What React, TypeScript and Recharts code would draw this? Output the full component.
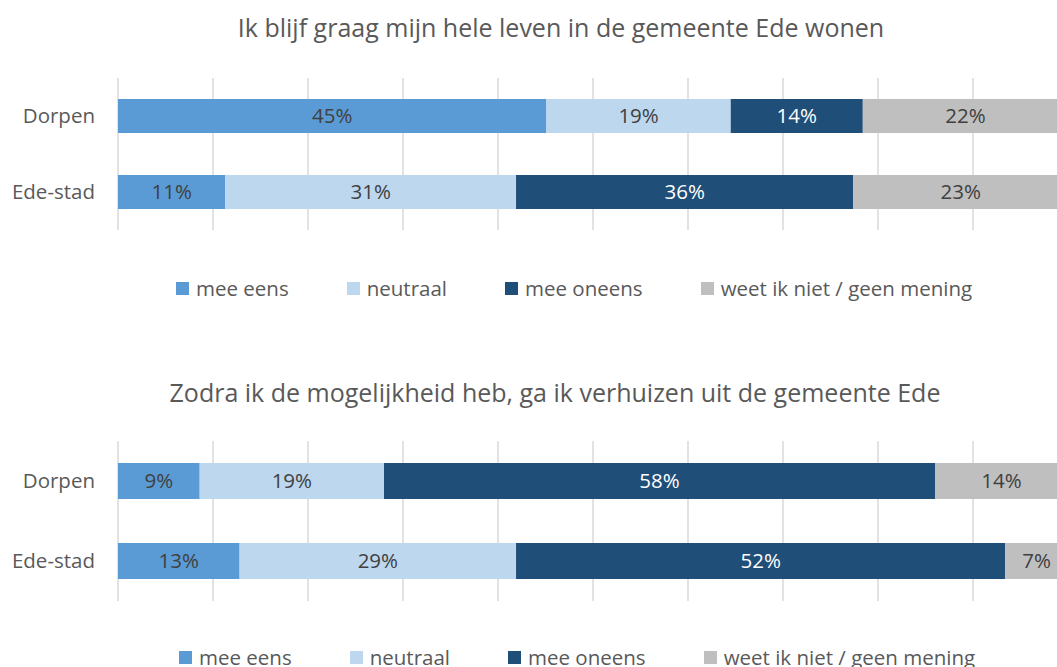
import React from "react";
import { BarChart, Bar, XAxis, YAxis, CartesianGrid, LabelList } from "recharts";

const categories = ["Dorpen", "Ede-stad"];
const seriesNames = ["mee eens", "neutraal", "mee oneens", "weet ik niet / geen mening"];
const seriesColors = ["#5b9bd5", "#bdd7ee", "#1f4e79", "#bfbfbf"];
const labelColors = ["#404040", "#404040", "#ffffff", "#404040"];
const xTicks = [0, 10, 20, 30, 40, 50, 60, 70, 80, 90, 100];

// Ik blijf graag mijn hele leven in de gemeente Ede wonen
const blijfMeeEens = [45.1, 11.3];
const blijfNeutraal = [19.4, 30.6];
const blijfOneens = [13.9, 35.5];
const blijfWeetNiet = [21.6, 22.6];

// Zodra ik de mogelijkheid heb, ga ik verhuizen uit de gemeente Ede
const verhuisMeeEens = [8.6, 12.8];
const verhuisNeutraal = [19.4, 29.1];
const verhuisOneens = [58.0, 51.5];
const verhuisWeetNiet = [14.0, 6.6];

const FONT = "'Open Sans', sans-serif";
const TEXT = "#595959";
const FS = 20.5;

function rows(series: number[][]) {
  return categories.map((name, i) => {
    const row: Record<string, string | number> = { name };
    series.forEach((s, k) => (row["s" + k] = s[i]));
    return row;
  });
}

function StackChart({ data, top, marginTop, plotHeight, barSize }: { data: any[]; top: number; marginTop: number; plotHeight: number; barSize: number }) {
  return (
    <div style={{ position: "absolute", left: 0, top }}>
      <BarChart
        width={1070}
        height={marginTop + plotHeight}
        data={data}
        layout="vertical"
        margin={{ top: marginTop, right: 2, bottom: 0, left: 0 }}
        barSize={barSize}
      >
        <CartesianGrid horizontal={false} stroke="#d9d9d9" strokeWidth={1.5} />
        <XAxis type="number" domain={[0, 100]} ticks={xTicks} hide />
        <YAxis
          type="category"
          dataKey="name"
          width={118}
          axisLine={false}
          tickLine={false}
          tickSize={0}
          tickMargin={23}
          tick={{ fill: TEXT, fontSize: FS, fontFamily: FONT }}
        />
        {seriesNames.map((n, k) => (
          <Bar key={n} dataKey={"s" + k} name={n} stackId="a" fill={seriesColors[k]} isAnimationActive={false}>
            <LabelList
              dataKey={"s" + k}
              position="center"
              formatter={(v: any) => Math.round(Number(v)) + "%"}
              style={{ fill: labelColors[k], fontSize: FS, fontFamily: FONT }}
            />
          </Bar>
        ))}
      </BarChart>
    </div>
  );
}

function Legend({ top, left }: { top: number; left: number }) {
  return (
    <div style={{ position: "absolute", top, left, display: "flex", gap: 58, fontFamily: FONT, fontSize: FS, color: TEXT, whiteSpace: "nowrap", lineHeight: "28px" }}>
      {seriesNames.map((n, k) => (
        <div key={n} style={{ display: "flex", alignItems: "center" }}>
          <span style={{ width: 13, height: 13, background: seriesColors[k], marginRight: 7, display: "inline-block" }} />
          <span>{n}</span>
        </div>
      ))}
    </div>
  );
}

function Title({ text, top, center }: { text: string; top: number; center: number }) {
  return (
    <div style={{ position: "absolute", top, left: center - 500, width: 1000, textAlign: "center", fontFamily: FONT, fontSize: 25, color: TEXT, lineHeight: "34px" }}>
      {text}
    </div>
  );
}

export default function App() {
  const data1 = rows([blijfMeeEens, blijfNeutraal, blijfOneens, blijfWeetNiet]);
  const data2 = rows([verhuisMeeEens, verhuisNeutraal, verhuisOneens, verhuisWeetNiet]);
  return (
    <div style={{ position: "absolute", left: 0, top: 0, width: 1057, height: 667, overflow: "hidden", background: "#fff" }}>
      <Title text="Ik blijf graag mijn hele leven in de gemeente Ede wonen" top={10} center={561} />
      <StackChart data={data1} top={0} marginTop={78} plotHeight={152} barSize={34} />
      <Legend top={274} left={176} />
      <Title text="Zodra ik de mogelijkheid heb, ga ik verhuizen uit de gemeente Ede" top={375} center={555} />
      <StackChart data={data2} top={400} marginTop={41} plotHeight={160} barSize={36} />
      <Legend top={643} left={179} />
    </div>
  );
}
